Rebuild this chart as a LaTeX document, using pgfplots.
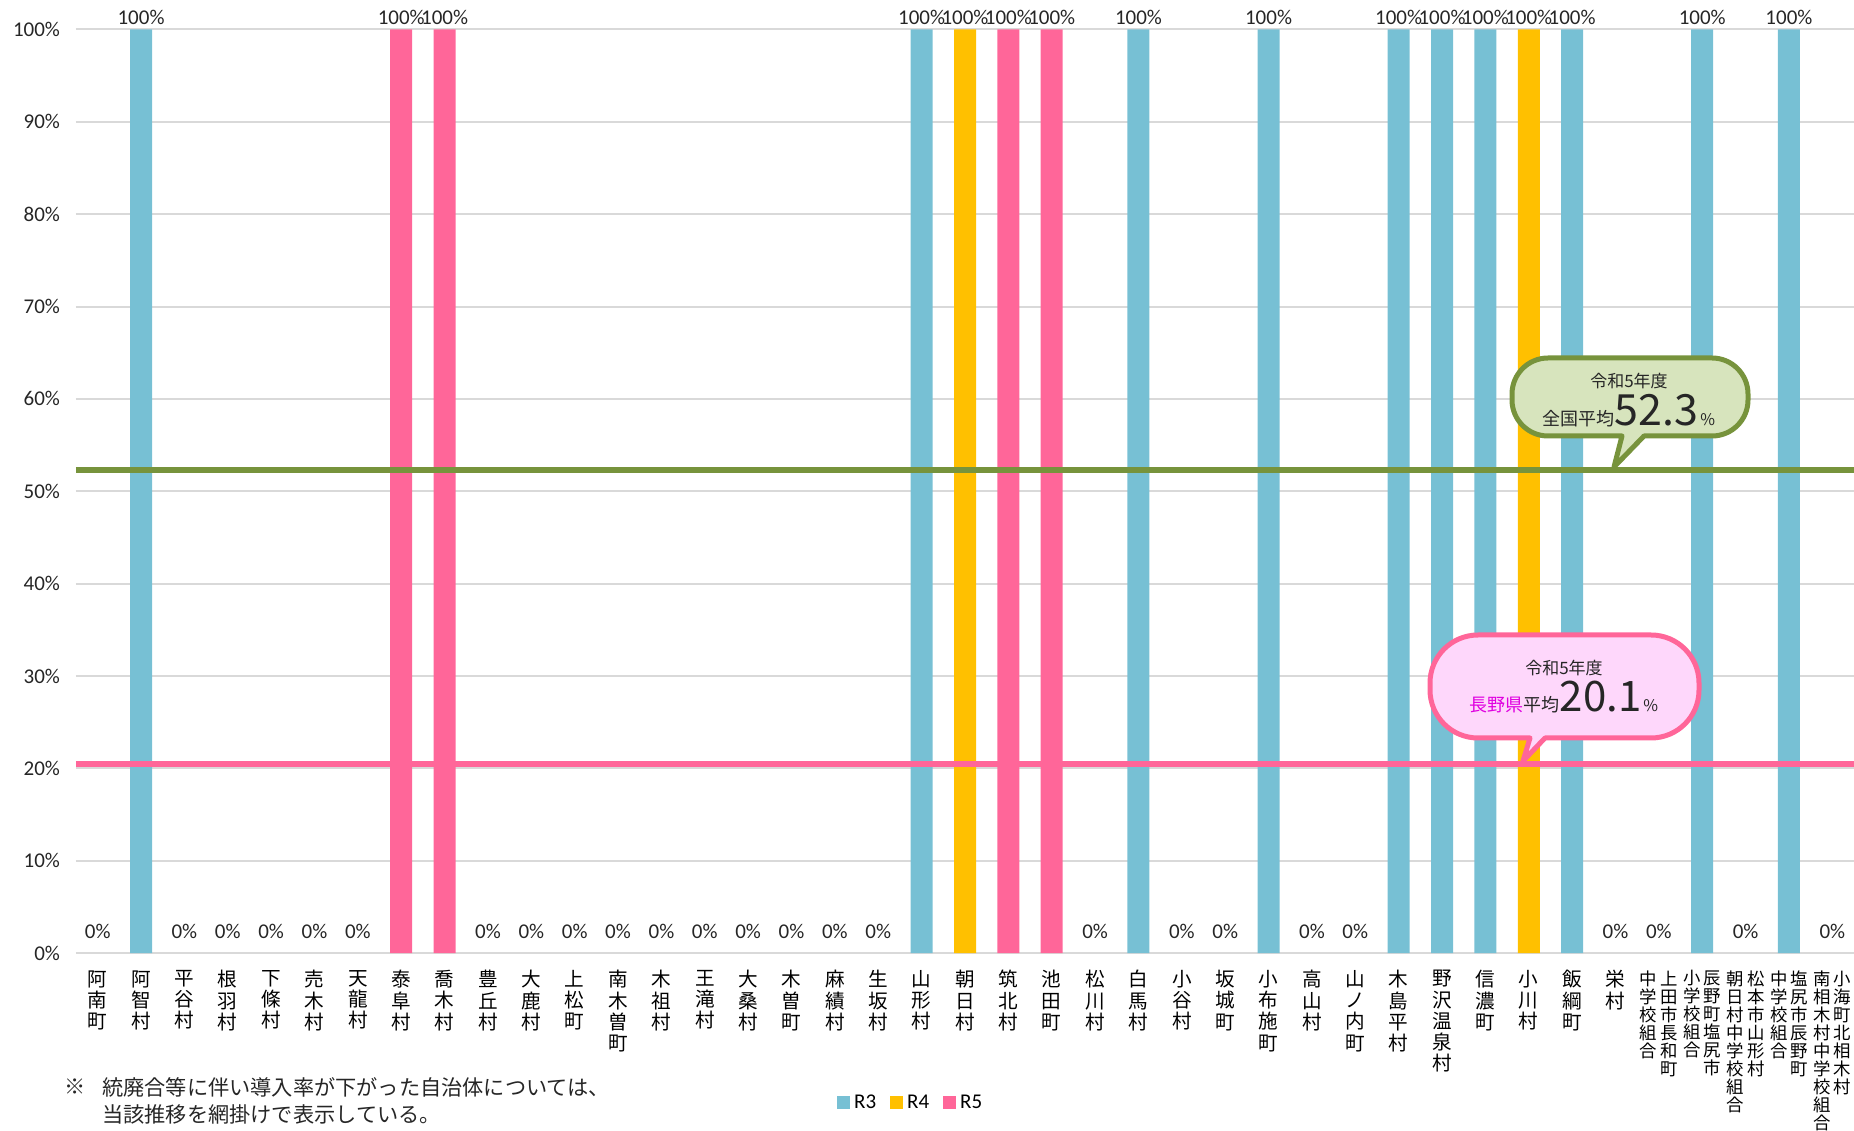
\documentclass[border=0pt]{standalone}
\usepackage{pgfplots}
\pgfplotsset{compat=1.18}
\usepackage{fontspec}
\setmainfont{Carlito}
\newfontfamily\jp{Noto Sans CJK JP}

\definecolor{cR3}{HTML}{77C0D4}
\definecolor{cR4}{HTML}{FFC000}
\definecolor{cR5}{HTML}{FF6699}
\definecolor{olive}{HTML}{77933C}
\definecolor{olivefill}{HTML}{D7E4BD}
\definecolor{pinkfill}{HTML}{FED7FB}
\definecolor{mag}{HTML}{E000E0}
\definecolor{gridc}{HTML}{D9D9D9}
\definecolor{txt}{HTML}{262626}

% vertical (tategaki) labels: one column, or two columns read right to left
\makeatletter
\newcommand\vt[1]{\vtop{\baselineskip=10.6bp\lineskip=0pt\lineskiplimit=-10bp
  \@tfor\vt@c:=#1\do{\hbox to 10bp{\hss\vt@c\hss}}}}
\newcommand\vtc[1]{\vtop{\fontsize{8.7bp}{9bp}\selectfont\baselineskip=9bp\lineskip=0pt\lineskiplimit=-10bp
  \@tfor\vt@c:=#1\do{\hbox to 9bp{\hss\vt@c\hss}}}}
\newcommand\vtt[2]{\hbox{\vtc{#1}\kern1.2bp\vtc{#2}}}
\makeatother

\begin{document}
\begin{tikzpicture}
\begin{axis}[
  width=889bp, height=461.75bp, scale only axis,
  xmin=0.5, xmax=41.5, ymin=0, ymax=100,
  clip=false,
  axis line style={draw=none},
  tick style={draw=none},
  ymajorgrids, grid style={gridc, line width=1bp},
  ytick={0,10,...,100},
  yticklabel={\pgfmathprintnumber{\tick}\%},
  /pgf/number format/assume math mode=true,
  yticklabel style={font=\fontsize{10.5bp}{11bp}\selectfont, text=txt, xshift=-4.5bp},
  xtick={1,...,41},
  xticklabels={\vt{阿南町},\vt{阿智村},\vt{平谷村},\vt{根羽村},\vt{下條村},\vt{売木村},\vt{天龍村},\vt{泰阜村},\vt{喬木村},\vt{豊丘村},\vt{大鹿村},\vt{上松町},\vt{南木曽町},\vt{木祖村},\vt{王滝村},\vt{大桑村},\vt{木曽町},\vt{麻績村},\vt{生坂村},\vt{山形村},\vt{朝日村},\vt{筑北村},\vt{池田町},\vt{松川村},\vt{白馬村},\vt{小谷村},\vt{坂城町},\vt{小布施町},\vt{高山村},\vt{山ノ内町},\vt{木島平村},\vt{野沢温泉村},\vt{信濃町},\vt{小川村},\vt{飯綱町},\vt{栄村},\vtt{中学校組合}{上田市長和町},\vtt{小学校組合}{辰野町塩尻市},\vtt{朝日村中学校組合}{松本市山形村},\vtt{中学校組合}{塩尻市辰野町},\vtt{南相木村中学校組合}{小海町北相木村}},
  xticklabel style={font=\jp\fontsize{9.8bp}{10bp}\selectfont, text=black, anchor=north, inner sep=0pt, yshift=-8.5bp},
  nodes near coords={\pgfmathprintnumber{\pgfplotspointmeta}\%},
  every node near coord/.append style={font=\fontsize{10.5bp}{11bp}\selectfont, text=txt, inner sep=2bp},
  legend style={draw=none, fill=none, at={(0.470,-0.1624)}, anchor=center, legend columns=3,
    font=\fontsize{10.5bp}{11bp}\selectfont,
    /tikz/every even column/.append style={column sep=5bp}},
  legend image code/.code={\fill[#1] (0bp,-3bp) rectangle (6.5bp,3.5bp);},
]
\addplot[ybar, bar width=11bp, bar shift=0pt, draw=none, fill=cR3]
  coordinates {(2,100) (20,100) (25,100) (28,100) (31,100) (32,100) (33,100) (35,100) (38,100) (40,100)};
\addplot[ybar, bar width=11bp, bar shift=0pt, draw=none, fill=cR4]
  coordinates {(21,100) (34,100)};
\addplot[ybar, bar width=11bp, bar shift=0pt, draw=none, fill=cR5]
  coordinates {(8,100) (9,100) (22,100) (23,100)};
\addplot[ybar, bar width=11bp, bar shift=0pt, draw=none, fill=none, forget plot,
  every node near coord/.append style={yshift=5bp}]
  coordinates {(1,0) (3,0) (4,0) (5,0) (6,0) (7,0) (10,0) (11,0) (12,0) (13,0) (14,0) (15,0)
    (16,0) (17,0) (18,0) (19,0) (24,0) (26,0) (27,0) (29,0) (30,0) (36,0) (37,0) (39,0) (41,0)};
\addplot[olive, line width=3bp, forget plot, nodes near coords={}] coordinates {(0.5,52.3) (41.5,52.3)};
\addplot[cR5, line width=3bp, forget plot, nodes near coords={}] coordinates {(0.5,20.5) (41.5,20.5)};
\legend{R3,R4,R5}
\end{axis}

% callout: national average
\draw[olive, line width=2.5bp, fill=olivefill, line join=round]
  (784bp,258.5bp) -- (818bp,258.5bp) arc[start angle=-90, end angle=0, radius=18bp]
  -- (836bp,279.5bp) arc[start angle=0, end angle=90, radius=18bp]
  -- (736bp,297.5bp) arc[start angle=90, end angle=180, radius=18bp]
  -- (718bp,276.5bp) arc[start angle=180, end angle=270, radius=18bp]
  -- (773bp,258.5bp) -- (769bp,243bp) -- cycle;
\node[text=txt, font=\jp\fontsize{8.5bp}{9bp}\selectfont] at (776.5bp,286bp) {令和5年度};
\node[anchor=base, text=txt, inner sep=0pt] at (776.5bp,263.5bp)
  {{\jp\fontsize{9bp}{9bp}\selectfont 全国平均}{\jp\fontsize{21.5bp}{22bp}\selectfont 52.3}\kern1bp{\jp\fontsize{8bp}{9bp}\selectfont \%}};

% callout: prefecture average
\draw[cR5, line width=2.5bp, fill=pinkfill, line join=round]
  (734.5bp,107.5bp) -- (787.5bp,107.5bp) arc[start angle=-90, end angle=0, radius=24bp]
  -- (811.5bp,135bp) arc[start angle=0, end angle=90, radius=24bp]
  -- (701bp,159bp) arc[start angle=90, end angle=180, radius=24bp]
  -- (677bp,131.5bp) arc[start angle=180, end angle=270, radius=24bp]
  -- (727bp,107.5bp) -- (723.5bp,96bp) -- cycle;
\node[text=txt, font=\jp\fontsize{8.5bp}{9bp}\selectfont] at (744bp,142.5bp) {令和5年度};
\node[anchor=base, text=txt, inner sep=0pt] at (744bp,120.5bp)
  {{\jp\fontsize{9bp}{9bp}\selectfont\textcolor{mag}{長野県}平均}{\jp\fontsize{21bp}{22bp}\selectfont 20.1}\kern1bp{\jp\fontsize{8bp}{9bp}\selectfont \%}};

% footnote
\node[text=txt, font=\jp\fontsize{10.6bp}{12bp}\selectfont] at (-0.5bp,-67bp) {※};
\node[anchor=west, inner sep=0pt, text=txt, font=\jp\fontsize{10.6bp}{12bp}\selectfont] at (13bp,-67bp)
  {統廃合等に伴い導入率が下がった自治体については、};
\node[anchor=west, inner sep=0pt, text=txt, font=\jp\fontsize{10.6bp}{12bp}\selectfont] at (13bp,-80.5bp)
  {当該推移を網掛けで表示している。};

\pgfresetboundingbox
\path[use as bounding box] (-38bp,-89bp) rectangle (889bp,476.5bp);
\end{tikzpicture}
\end{document}
